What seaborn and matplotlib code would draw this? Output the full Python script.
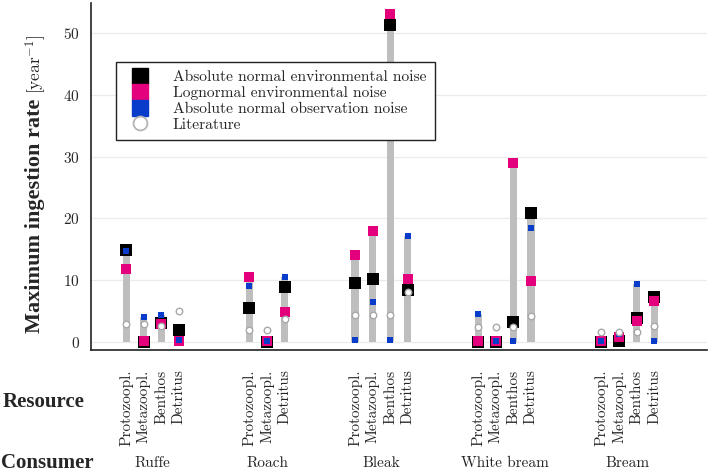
import numpy as np
import pandas as pd
import seaborn as sns
import matplotlib.pyplot as plt
from matplotlib.lines import Line2D
from matplotlib import transforms

# ---- data ----
consumers = ["Ruffe", "Roach", "Bleak", "White bream", "Bream"]
resources = [
    ["Protozoopl.", "Metazoopl.", "Benthos", "Detritus"],
    ["Protozoopl.", "Metazoopl.", "Detritus"],
    ["Protozoopl.", "Metazoopl.", "Benthos", "Detritus"],
    ["Protozoopl.", "Metazoopl.", "Benthos", "Detritus"],
    ["Protozoopl.", "Metazoopl.", "Benthos", "Detritus"],
]
abs_env = [14.9, 0.0, 3.0, 1.9,   5.4, 0.0, 8.9,   9.5, 10.2, 51.3, 8.4,   0.0, 0.0, 3.2, 20.9,   0.0, 0.1, 3.8, 7.3]
logn_env = [11.7, 0.1, 2.8, 0.1,  10.5, 0.1, 4.8,  14.1, 18.0, 53.1, 10.1,  0.1, 0.1, 28.9, 9.8,   0.1, 0.7, 3.4, 6.6]
abs_obs = [14.7, 4.0, 4.3, 0.2,   9.0, 0.1, 10.5,  0.2, 6.4, 0.3, 17.2,    4.5, 0.1, 0.1, 18.5,   0.1, 1.2, 9.4, 0.1]
literature = [2.8, 2.8, 2.6, 5.0, 1.9, 1.9, 3.6,   4.4, 4.4, 4.4, 8.1,     2.3, 2.3, 2.3, 4.1,    1.5, 1.5, 1.5, 2.6]

# slot positions: one per resource, 3 empty slots between consumers
pos, res_lab, cons_lab, centers = [], [], [], []
p = 0
for c, rs in zip(consumers, resources):
    start = p
    for r in rs:
        pos.append(p)
        res_lab.append(r)
        cons_lab.append(c)
        p += 1
    centers.append((start + p - 1) / 2)
    p += 3

df = pd.DataFrame({"pos": pos, "resource": res_lab, "consumer": cons_lab,
                   "abs_env": abs_env, "logn_env": logn_env,
                   "abs_obs": abs_obs, "lit": literature})
df["top"] = df[["abs_env", "logn_env", "abs_obs"]].max(axis=1)

BLACK = "#000000"
PINK = "#e4007c"
BLUE = "#0a3ccc"
GREY = "#bebebe"

sns.set_style("white")
plt.rcParams["font.family"] = ["cmr10", "DejaVu Serif"]
plt.rcParams["mathtext.fontset"] = "cm"
plt.rcParams["axes.formatter.use_mathtext"] = True
plt.rcParams["font.size"] = 11

fig = plt.figure(figsize=(7.09, 4.74), dpi=100)
ax = fig.add_axes([91 / 709, 1 - 350 / 474, 616 / 709, 347 / 474])

sns.barplot(data=df, x="pos", y="top", native_scale=True, color=GREY,
            saturation=1, width=0.4, errorbar=None, linewidth=0, ax=ax, zorder=2)
sns.scatterplot(data=df, x="pos", y="abs_env", marker="s", s=76, color=BLACK,
                linewidth=0, ax=ax, zorder=3, legend=False)
sns.scatterplot(data=df, x="pos", y="logn_env", marker="s", s=52, color=PINK,
                linewidth=0, ax=ax, zorder=4, legend=False)
sns.scatterplot(data=df, x="pos", y="abs_obs", marker="s", s=25, color=BLUE,
                linewidth=0, ax=ax, zorder=5, legend=False)
sns.scatterplot(data=df, x="pos", y="lit", marker="o", s=22, facecolor="white",
                edgecolor="#a8a8a8", linewidth=1.0, ax=ax, zorder=6, legend=False)

ax.set_xlim(-2.0, 33.0)
ax.set_ylim(-1.35, 54.9)
ax.set_yticks([0, 10, 20, 30, 40, 50])
ax.set_xticks(df["pos"])
ax.set_xticklabels(df["resource"], rotation=90, va="top", ha="center")
ax.tick_params(axis="x", length=0, pad=14, labelsize=11)
ax.tick_params(axis="y", direction="in", length=4, width=1, color="#222222",
               labelsize=11, pad=8)
ax.set_xlabel("")
ax.set_ylabel("")
ax.yaxis.grid(True, color="#ebebeb", linewidth=0.9)
ax.set_axisbelow(True)
for s in ["top", "right"]:
    ax.spines[s].set_visible(False)
for s in ["left", "bottom"]:
    ax.spines[s].set_color("#222222")
    ax.spines[s].set_linewidth(1.2)

# consumer names under each group
trans = transforms.blended_transform_factory(ax.transData, fig.transFigure)
for c, x in zip(consumers, centers):
    ax.text(x, 1 - 463 / 474, c, transform=trans, ha="center", va="center",
            fontsize=11)

bold = dict(family=["Liberation Serif", "DejaVu Serif"], weight="bold", fontsize=15)
fig.text(3 / 709, 1 - 402 / 474, "Resource", ha="left", va="center", **bold)
fig.text(1 / 709, 1 - 463 / 474, "Consumer", ha="left", va="center", **bold)

# y label: bold part plus unit
fig.text(35 / 709, 1 - 333 / 474, "Maximum ingestion rate", rotation=90,
         ha="center", va="bottom", family=["Liberation Serif", "DejaVu Serif"],
         weight="bold", fontsize=16)
fig.text(36 / 709, 1 - 94 / 474, "[year$^{-1}$]", rotation=90,
         ha="center", va="bottom", fontsize=12.5)

handles = [
    Line2D([], [], marker="s", color=BLACK, linestyle="none", markersize=12),
    Line2D([], [], marker="s", color=PINK, linestyle="none", markersize=12),
    Line2D([], [], marker="s", color=BLUE, linestyle="none", markersize=12),
    Line2D([], [], marker="o", markerfacecolor="white", markeredgecolor="#b4b4b4",
           markeredgewidth=1.3, linestyle="none", markersize=10),
]
labels = ["Absolute normal environmental noise", "Lognormal environmental noise",
          "Absolute normal observation noise", "Literature"]
leg = ax.legend(handles, labels, loc="upper left",
                bbox_to_anchor=((116 - 91) / 616, 1 - (62 - 3) / 347),
                borderaxespad=0, frameon=True, fancybox=False, framealpha=1,
                edgecolor="#222222", fontsize=11.2, labelspacing=0.12,
                handlelength=2.0, handletextpad=1.1, borderpad=0.55)
leg.get_frame().set_linewidth(1.0)
leg.set_zorder(10)

fig.savefig("out.png", dpi=100)
